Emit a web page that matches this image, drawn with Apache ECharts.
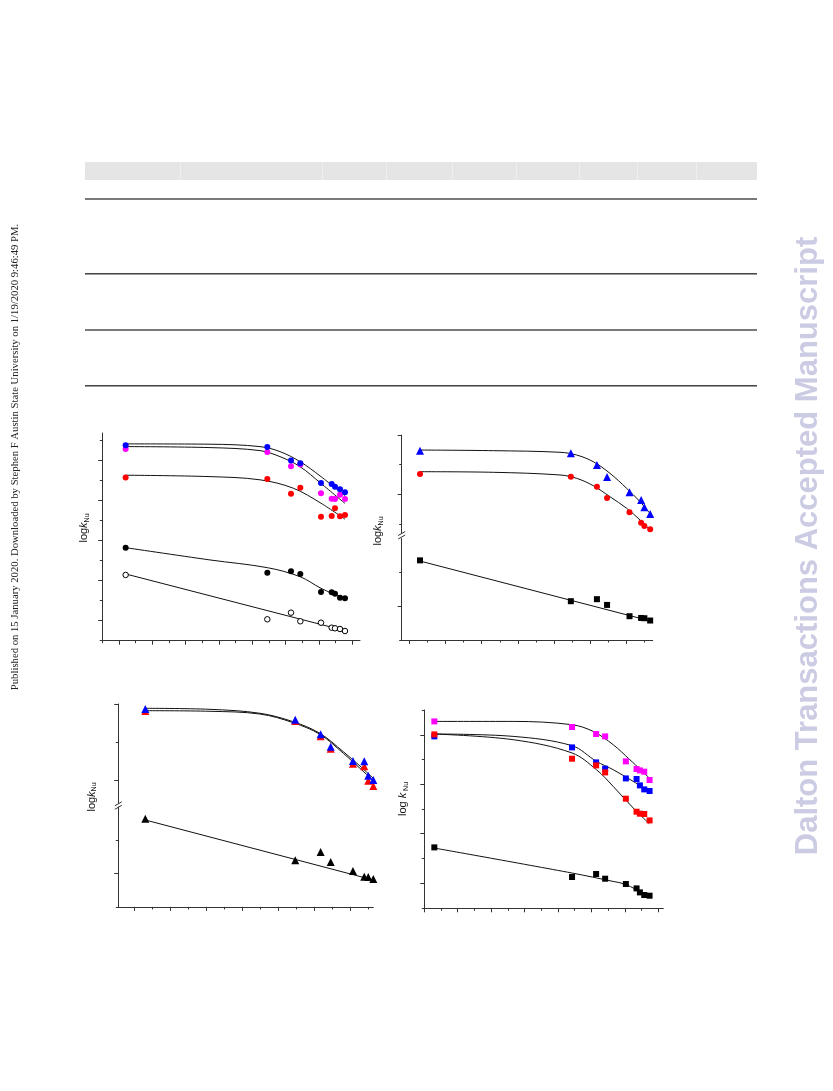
<!DOCTYPE html>
<html><head><meta charset="utf-8">
<script src="https://cdn.jsdelivr.net/npm/echarts@6/dist/echarts.min.js"></script>
<style>html,body{margin:0;padding:0;background:#fff}#c{width:833px;height:1091px}</style>
</head><body><div id="c"></div>
<script>
// ---------- Panel A (top-left) ----------
const xA = [0.20, 4.45, 5.16, 5.44, 6.06, 6.38, 6.48, 6.63, 6.78];
const aBlue = [4.385, 4.343, 4.00, 3.935, 3.443, 3.418, 3.35, 3.285, 3.21];
const aMagenta = [4.293, 4.218, 3.86, 3.90, 3.185, 3.05, 3.043, 3.15, 3.043];
const aRed = [3.575, 3.543, 3.175, 3.325, 2.60, 2.618, 2.81, 2.61, 2.643];
const aBlack = [1.825, 1.20, 1.235, 1.168, 0.718, 0.71, 0.675, 0.575, 0.56];
const aOpen = [1.143, 0.035, 0.20, -0.015, -0.05, -0.175, -0.19, -0.208, -0.258];
const xAfitBM = [0.2, 2.73, 4.23, 4.83, 5.43, 6.06, 6.78];
const aBlueFit = [4.418, 4.41, 4.35, 4.225, 3.975, 3.6, 3.12];
const aMagentaFit = [4.35, 4.325, 4.25, 4.1, 3.85, 3.43, 2.93];
const xAfitR = [0.2, 2.73, 4.23, 5.23, 6.06, 6.78];
const aRedFit = [3.635, 3.6, 3.52, 3.31, 2.935, 2.535];
const xAfitK = [0.2, 2.73, 4.45, 5.43, 6.06, 6.78];
const aBlackFit = [1.825, 1.518, 1.325, 1.1, 0.81, 0.543];
const xAfitO = [0.2, 6.78];
const aOpenFit = [1.168, -0.25];

// ---------- Panel B (top-right, broken y axis) ----------
const xB = [0.296, 4.46, 5.18, 5.46, 6.08, 6.40, 6.49, 6.65];
const bBlue = [3.236, 3.192, 2.995, 2.793, 2.535, 2.406, 2.283, 2.17];
const bRed = [2.843, 2.798, 2.63, 2.44, 2.199, 2.024, 1.968, 1.912];
const bBlack = [-0.322, -0.926, -0.896, -0.981, -1.148, -1.174, -1.178, -1.212];
const xBfitB = [0.296, 2.32, 4.16, 4.62, 5.08, 5.54, 6.0, 6.37, 6.72];
const bBlueFit = [3.247, 3.236, 3.209, 3.163, 3.05, 2.855, 2.602, 2.377, 2.124];
const xBfitR = [0.296, 2.32, 4.16, 4.62, 5.08, 5.54, 6.0, 6.37, 6.65];
const bRedFit = [2.882, 2.872, 2.827, 2.771, 2.646, 2.461, 2.266, 2.069, 1.9];
const xBfitK = [0.296, 6.65];
const bBlackFit = [-0.332, -1.218];

// ---------- Panel C (bottom-left, broken y axis) ----------
const xC = [0.313, 4.468, 5.17, 5.449, 6.066, 6.38, 6.49, 6.63];
const cBlue = [3.434, 3.293, 3.101, 2.938, 2.75, 2.746, 2.557, 2.5];
const cRed = [3.408, 3.276, 3.075, 2.912, 2.714, 2.68, 2.491, 2.421];
const cBlack = [-0.176, -0.8, -0.676, -0.826, -0.961, -1.047, -1.051, -1.081];
const xCfit = [0.313, 2.105, 3.49, 4.41, 5.15, 5.80, 6.26, 6.63];
const cBlueFit = [3.443, 3.43, 3.378, 3.267, 3.114, 2.872, 2.684, 2.522];
const cRedFit = [3.412, 3.404, 3.368, 3.254, 3.101, 2.851, 2.654, 2.491];
const xCfitK = [0.313, 6.63];
const cBlackFit = [-0.195, -1.096];

// ---------- Panel D (bottom-right) ----------
const xD = [-0.70, 3.42, 4.14, 4.41, 5.03, 5.35, 5.45, 5.58, 5.74];
const dMagenta = [2.273, 2.16, 2.018, 1.97, 1.464, 1.31, 1.281, 1.255, 1.087];
const dBlue = [1.97, 1.747, 1.443, 1.316, 1.119, 1.107, 0.978, 0.897, 0.864];
const dRed = [2.01, 1.518, 1.383, 1.241, 0.709, 0.445, 0.405, 0.399, 0.269];
const dBlack = [-0.277, -0.877, -0.816, -0.911, -1.018, -1.107, -1.188, -1.241, -1.255];
const xDfitM = [-0.7, 1.66, 3.42, 4.05, 4.65, 5.15, 5.73];
const dMagentaFit = [2.273, 2.273, 2.206, 2.071, 1.802, 1.498, 1.128];
const xDfitB = [-0.7, 1.66, 3.42, 4.15, 4.65, 5.25, 5.74];
const dBlueFit = [2.018, 1.97, 1.781, 1.464, 1.296, 1.059, 0.856];
const xDfitR = [-0.7, 1.66, 3.42, 4.15, 4.65, 5.25, 5.73];
const dRedFit = [2.018, 1.903, 1.634, 1.296, 0.958, 0.52, 0.202];
const xDfitK = [-0.7, 3.42, 4.65, 4.99, 5.35, 5.74];
const dBlackFit = [-0.29, -0.796, -0.966, -1.018, -1.134, -1.269];

// ---------- tick positions ----------
const ticksMajorA = [0, 1, 2, 3, 4, 5, 6, 7];
const ticksMinorA = [-0.5, 0.5, 1.5, 2.5, 3.5, 4.5, 5.5, 6.5];
const yMajorA = [0, 1, 2, 3, 4];
const yMinorA = [-0.5, 0.5, 1.5, 2.5, 3.5, 4.5];
const ticksMajorB = [0, 1, 2, 3, 4, 5, 6];
const ticksMinorB = [0.5, 1.5, 2.5, 3.5, 4.5, 5.5, 6.5];
const yMajorBup = [3.5, 2.5];
const yMinorBup = [3.0, 2.0];
const yMajorBlo = [-1.0];
const yMinorBlo = [-0.5, -1.5];
const yMajorCup = [3.5, 2.5];
const yMinorCup = [3.0];
const yMajorClo = [-1.0];
const yMinorClo = [-0.5, -1.5];
const ticksMajorD = [-1, 0, 1, 2, 3, 4, 5, 6];
const ticksMinorD = [-0.5, 0.5, 1.5, 2.5, 3.5, 4.5, 5.5];
const yMajorD = [-1, 0, 1, 2];
const yMinorD = [-1.5, -0.5, 0.5, 1.5, 2.5];

const AX = '#333';
const grids = [
  {left: 102.3, top: 433, width: 257.7, height: 207.7},
  {left: 401.7, top: 435, width: 251, height: 98},
  {left: 401.7, top: 538.6, width: 251, height: 101.4},
  {left: 118.3, top: 704, width: 255, height: 99.3},
  {left: 118.3, top: 807, width: 255, height: 99.9},
  {left: 424.3, top: 710, width: 239, height: 198.3}
];
const xRanges = [[-0.5, 7.23], [-0.21, 6.72], [-0.21, 6.72], [-0.435, 6.63], [-0.435, 6.63], [-1, 6.15]];
const yRanges = [[-0.5, 4.69], [1.85, 3.5], [-1.5, 0], [2.193, 3.5], [-1.5, 0], [-1.51, 2.504]];
const xTickSets = [[ticksMajorA, ticksMinorA], null, [ticksMajorB, ticksMinorB], null, [ticksMajorB, ticksMinorB], [ticksMajorD, ticksMinorD]];
const yTickSets = [[yMajorA, yMinorA], [yMajorBup, yMinorBup], [yMajorBlo, yMinorBlo], [yMajorCup, yMinorCup], [yMajorClo, yMinorClo], [yMajorD, yMinorD]];

const xAxis = [], yAxis = [];
grids.forEach((g, gi) => {
  const xs = xTickSets[gi];
  const base = {type: 'value', gridIndex: gi, min: xRanges[gi][0], max: xRanges[gi][1],
    position: 'bottom', axisLabel: {show: false}, splitLine: {show: false}};
  xAxis.push(Object.assign({}, base, {show: !!xs,
    axisLine: {show: true, onZero: false, lineStyle: {color: AX, width: 1}},
    axisTick: {show: true, customValues: xs ? xs[1] : [], length: 2.5, lineStyle: {color: AX}}}));
  xAxis.push(Object.assign({}, base, {show: !!xs,
    axisLine: {show: false, onZero: false},
    axisTick: {show: true, customValues: xs ? xs[0] : [], length: 4, lineStyle: {color: AX}}}));
  const ys = yTickSets[gi];
  const ybase = {type: 'value', gridIndex: gi, min: yRanges[gi][0], max: yRanges[gi][1],
    position: 'left', axisLabel: {show: false}, splitLine: {show: false}};
  yAxis.push(Object.assign({}, ybase, {
    axisLine: {show: true, onZero: false, lineStyle: {color: AX, width: 1}},
    axisTick: {show: true, customValues: ys[1], length: 2.5, lineStyle: {color: AX}}}));
  yAxis.push(Object.assign({}, ybase, {
    axisLine: {show: false, onZero: false},
    axisTick: {show: true, customValues: ys[0], length: 4, lineStyle: {color: AX}}}));
});

const pairs = (xs, ys) => xs.map((x, i) => [x, ys[i]]);
const series = [];
function pts(gi, xs, ys, symbol, color, size, extra) {
  series.push(Object.assign({type: 'scatter', xAxisIndex: gi * 2, yAxisIndex: gi * 2,
    data: pairs(xs, ys), symbol, symbolSize: size, itemStyle: {color, opacity: 1}, z: 3, silent: true}, extra || {}));
}
function fit(gi, xs, ys) {
  series.push({type: 'line', xAxisIndex: gi * 2, yAxisIndex: gi * 2, data: pairs(xs, ys),
    showSymbol: false, smooth: xs.length > 2 ? 0.35 : false, lineStyle: {color: '#111', width: 1}, z: 2, silent: true});
}
const BLUE = '#0000ff', RED = '#ff0000', MAG = '#ff00ff', BLK = '#000000';
// A
fit(0, xAfitBM, aBlueFit); fit(0, xAfitBM, aMagentaFit); fit(0, xAfitR, aRedFit); fit(0, xAfitK, aBlackFit); fit(0, xAfitO, aOpenFit);
pts(0, xA, aMagenta, 'circle', MAG, 6);
pts(0, xA, aBlue, 'circle', BLUE, 6);
pts(0, xA, aRed, 'circle', RED, 6);
pts(0, xA, aBlack, 'circle', BLK, 6);
pts(0, xA, aOpen, 'circle', '#fff', 5.5, {itemStyle: {color: '#fff', opacity: 1, borderColor: '#000', borderWidth: 1}});
// B
fit(1, xBfitB, bBlueFit); fit(1, xBfitR, bRedFit); fit(2, xBfitK, bBlackFit);
pts(1, xB, bBlue, 'triangle', BLUE, 8);
pts(1, xB, bRed, 'circle', RED, 6);
pts(2, xB, bBlack, 'rect', BLK, 6);
// C
fit(3, xCfit, cBlueFit); fit(3, xCfit, cRedFit); fit(4, xCfitK, cBlackFit);
pts(3, xC, cRed, 'triangle', RED, 8);
pts(3, xC, cBlue, 'triangle', BLUE, 8);
pts(4, xC, cBlack, 'triangle', BLK, 8);
// D
fit(5, xDfitM, dMagentaFit); fit(5, xDfitB, dBlueFit); fit(5, xDfitR, dRedFit); fit(5, xDfitK, dBlackFit);
pts(5, xD, dMagenta, 'rect', MAG, 6);
pts(5, xD, dBlue, 'rect', BLUE, 6);
pts(5, xD, dRed, 'rect', RED, 6);
pts(5, xD, dBlack, 'rect', BLK, 6);

// ---------- page furniture ----------
const tableSeps = [180, 322, 386, 452, 516, 579, 637, 696];
const graphic = [];
graphic.push({type: 'rect', shape: {x: 85, y: 162, width: 672, height: 18}, style: {fill: '#e5e5e5'}, silent: true});
tableSeps.forEach(x => graphic.push({type: 'line', shape: {x1: x + 0.5, y1: 162, x2: x + 0.5, y2: 180}, style: {stroke: '#efefef', lineWidth: 1}}));
[[198, '#7a7a7a', '#7a7a7a'], [273, '#444', '#9a9a9a'], [329, '#7a7a7a', '#7a7a7a'], [385, '#444', '#9a9a9a']].forEach(r => {
  graphic.push({type: 'rect', shape: {x: 85, y: r[0], width: 672, height: 1}, style: {fill: r[1]}});
  graphic.push({type: 'rect', shape: {x: 85, y: r[0] + 1, width: 672, height: 1}, style: {fill: r[2]}});
});
// axis break marks
[[401.7, 533], [118.3, 803.3]].forEach(b => {
  graphic.push({type: 'line', shape: {x1: b[0] - 3.5, y1: b[1] + 2.5, x2: b[0] + 3.5, y2: b[1] - 1.5}, style: {stroke: AX, lineWidth: 1}});
  graphic.push({type: 'line', shape: {x1: b[0] - 3.5, y1: b[1] + 6, x2: b[0] + 3.5, y2: b[1] + 2}, style: {stroke: AX, lineWidth: 1}});
});
// y-axis names
const richName = {
  a: {fontSize: 11, fontFamily: 'Liberation Sans', fill: '#111'},
  b: {fontSize: 11, fontFamily: 'Liberation Sans', fontStyle: 'italic', fill: '#111'},
  c: {fontSize: 7, fontFamily: 'Liberation Sans', fill: '#111', padding: [6, 0, 0, 0]}
};
[[84, 528, '{a|log}{b|k}{c|Nu}'], [378, 531, '{a|log}{b|k}{c|Nu}'], [91.5, 797, '{a|log}{b|k}{c|Nu}'], [403, 799, '{a|log }{b|k}{c| Nu}']].forEach(l => {
  graphic.push({type: 'text', x: l[0], y: l[1], rotation: Math.PI / 2,
    style: {text: l[2], rich: richName, align: 'center', verticalAlign: 'middle'}});
});
graphic.push({type: 'text', x: 15, y: 457, rotation: Math.PI / 2,
  style: {text: 'Published on 15 January 2020. Downloaded by Stephen F Austin State University on 1/19/2020 9:46:49 PM.',
    font: '10.7px "Liberation Serif"', fill: '#222', align: 'center', verticalAlign: 'middle'}});
graphic.push({type: 'text', x: 808, y: 546, rotation: Math.PI / 2,
  style: {text: 'Dalton Transactions Accepted Manuscript',
    font: 'bold 31px "Liberation Sans"', fill: '#cbcbe4', align: 'center', verticalAlign: 'middle'}});

const chart = echarts.init(document.getElementById('c'), null, {renderer: 'canvas', width: 833, height: 1091});
chart.setOption({backgroundColor: '#fff', animation: false, grid: grids, xAxis, yAxis, series, graphic});
</script>
</body></html>
